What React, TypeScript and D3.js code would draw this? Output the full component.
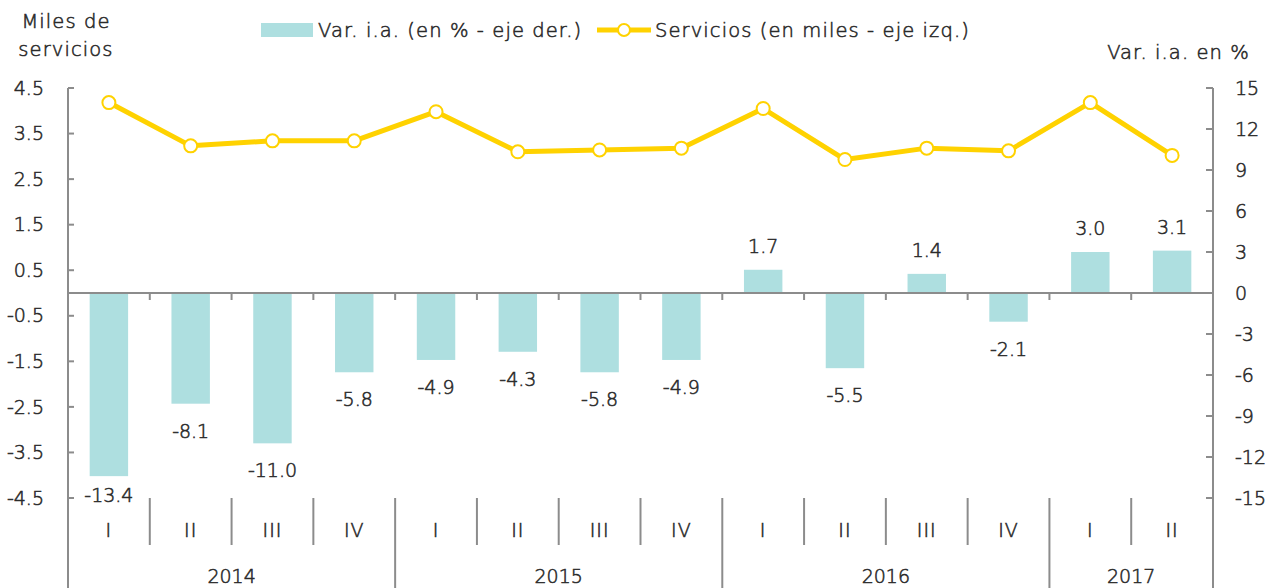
import React from 'react';
import * as d3 from 'd3';

// quarters and years
const quarters = ['I', 'II', 'III', 'IV', 'I', 'II', 'III', 'IV', 'I', 'II', 'III', 'IV', 'I', 'II'];
const years = ['2014', '2015', '2016', '2017'];
const yearSpans = [4, 4, 4, 2];

// Var. i.a. (en %) - right axis
const variation = [-13.4, -8.1, -11.0, -5.8, -4.9, -4.3, -5.8, -4.9, 1.7, -5.5, 1.4, -2.1, 3.0, 3.1];
// Servicios (en miles) - left axis
const services = [4.18, 3.23, 3.34, 3.34, 3.98, 3.1, 3.14, 3.18, 4.05, 2.93, 3.18, 3.12, 4.18, 3.02];

const leftTicks = [4.5, 3.5, 2.5, 1.5, 0.5, -0.5, -1.5, -2.5, -3.5, -4.5];
const rightTicks = [15, 12, 9, 6, 3, 0, -3, -6, -9, -12, -15];

const W = 1272;
const H = 588;
const FONT = "'DejaVu Sans', sans-serif";
const TEXT = '#2b2b2b';
const GRID = '#8c8c8c';
const BAR = '#aedfe0';
const LINE = '#ffd200';

const App = () => {
  const left = 68;
  const right = 1213;
  const top = 88;
  const bottom = 498;

  const x = d3.scaleBand<number>()
    .domain(d3.range(quarters.length))
    .range([left, right]);
  const bw = x.bandwidth();
  const barW = bw * 0.47;

  const yL = d3.scaleLinear().domain([-4.5, 4.5]).range([bottom, top]);
  const yR = d3.scaleLinear().domain([-15, 15]).range([bottom, top]);
  const zero = yR(0);

  const line = d3.line<number>()
    .x((_, i) => x(i)! + bw / 2)
    .y(d => yL(d));

  // year boundaries (category index)
  const yearStarts = d3.cumsum([0, ...yearSpans]);
  const boundaries = d3.range(1, quarters.length);

  // thin font, thickened a bit with a stroke
  const txt = { fontSize: 19, fill: TEXT, stroke: TEXT, strokeWidth: 0.55 };
  const label = { ...txt, fontSize: 19.5, letterSpacing: 1.1 };

  return (
    <svg width={W} height={H} style={{ position: 'absolute', left: 0, top: 0, background: '#fff' }}
      fontFamily={FONT} fontWeight={200}>
      {/* titles */}
      <text x={66} y={28} textAnchor="middle" {...label}>Miles de</text>
      <text x={66} y={56} textAnchor="middle" {...label}>servicios</text>
      <text x={1250} y={59} textAnchor="end" {...label}>Var. i.a. en %</text>

      {/* legend */}
      <rect x={261} y={23} width={52} height={14} fill={BAR} />
      <text x={318} y={37} {...label}>Var. i.a. (en % - eje der.)</text>
      <line x1={597} x2={651} y1={30} y2={30} stroke={LINE} strokeWidth={5} />
      <circle cx={624} cy={30} r={6} fill="#fff" stroke={LINE} strokeWidth={2} />
      <text x={655} y={37} {...label}>Servicios (en miles - eje izq.)</text>

      {/* bars */}
      {variation.map((v, i) => (
        <rect key={i}
          x={x(i)! + (bw - barW) / 2}
          y={v >= 0 ? yR(v) : zero}
          width={barW}
          height={Math.abs(yR(v) - zero)}
          fill={BAR} />
      ))}

      {/* bar labels */}
      {variation.map((v, i) => (
        <text key={i} x={x(i)! + bw / 2}
          y={v >= 0 ? yR(v) - 17 : Math.min(yR(v) + 34, 502)}
          textAnchor="middle" {...txt}>
          {v.toFixed(1)}
        </text>
      ))}

      {/* axes */}
      <line x1={left} x2={left} y1={top} y2={H} stroke={GRID} strokeWidth={2} />
      <line x1={right} x2={right} y1={top} y2={H} stroke={GRID} strokeWidth={2} />
      <line x1={left} x2={right} y1={zero} y2={zero} stroke={GRID} strokeWidth={2} />

      {leftTicks.map(t => (
        <g key={t}>
          <line x1={left} x2={left + 6} y1={yL(t)} y2={yL(t)} stroke={GRID} strokeWidth={2} />
          <text x={44} y={yL(t)} dy="0.35em" textAnchor="end" {...txt}>
            {t.toFixed(1)}
          </text>
        </g>
      ))}
      {rightTicks.map(t => (
        <g key={t}>
          <line x1={right - 7} x2={right} y1={yR(t)} y2={yR(t)} stroke={GRID} strokeWidth={2} />
          <text x={1235} y={yR(t)} dy="0.35em" textAnchor="start" {...txt}>
            {t}
          </text>
        </g>
      ))}

      {/* category ticks at zero line */}
      {boundaries.map(i => (
        <line key={i} x1={x(i)!} x2={x(i)!} y1={zero} y2={zero + 7} stroke={GRID} strokeWidth={2} />
      ))}

      {/* lower category separators */}
      {boundaries.map(i => (
        <line key={i} x1={x(i)!} x2={x(i)!} y1={bottom}
          y2={yearStarts.includes(i) ? H : 545} stroke={GRID} strokeWidth={2} />
      ))}

      {quarters.map((q, i) => (
        <text key={i} x={x(i)! + bw / 2} y={530} dy="0.35em" textAnchor="middle" {...txt} letterSpacing={1}>
          {q}
        </text>
      ))}
      {years.map((yr, k) => {
        const x0 = x(yearStarts[k])!;
        const x1 = yearStarts[k + 1] < quarters.length ? x(yearStarts[k + 1])! : right;
        return (
          <text key={yr} x={(x0 + x1) / 2} y={576} dy="0.35em" textAnchor="middle" {...txt}>
            {yr}
          </text>
        );
      })}

      {/* services line */}
      <path d={line(services) ?? ''} fill="none" stroke={LINE} strokeWidth={5} strokeLinejoin="round" />
      {services.map((s, i) => (
        <circle key={i} cx={x(i)! + bw / 2} cy={yL(s)} r={6.5} fill="#fff" stroke={LINE} strokeWidth={2} />
      ))}
    </svg>
  );
};

export default App;
